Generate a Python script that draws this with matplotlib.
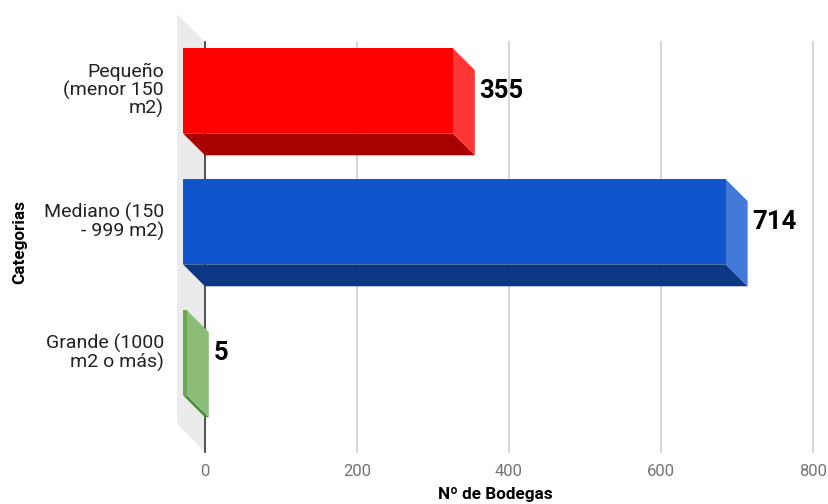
import matplotlib.pyplot as plt
from matplotlib.patches import Polygon

plt.rcParams['font.family'] = ['Roboto', 'DejaVu Sans']

# --- Data ---
categories = ['Pequeño\n(menor 150\nm2)', 'Mediano (150\n- 999 m2)', 'Grande (1000\nm2 o más)']
values = [355, 714, 5]
x_ticks = [0, 200, 400, 600, 800]

# front, side, bottom shades per bar
front_colors = ['#ff0000', '#1155cc', '#6aa84f']
side_colors = ['#ff3636', '#4479d9', '#8cbd77']
bottom_colors = ['#a80000', '#0c3784', '#4f8a3a']

# --- Figure ---
W, H = 829, 504
fig = plt.figure(figsize=(W / 100, H / 100), dpi=100)
ax = fig.add_axes([205 / W, 52 / H, 608 / W, 410 / H])
ax.set_xlim(0, 800)
ax.set_ylim(2.59, -0.54)
for s in ax.spines.values():
    s.set_visible(False)


def px_to_data(dx, dy):
    # offset in pixels (screen, y up) -> offset in data units
    inv = ax.transData.inverted()
    x0, y0 = inv.transform(ax.transData.transform((0, 0)))
    x1, y1 = inv.transform(ax.transData.transform((0, 0)) + [dx, dy])
    return x1 - x0, y1 - y0


bar_dx, bar_dy = px_to_data(-22, 22)
wall_dx, wall_dy = px_to_data(-28, 28)
ylo, yhi = ax.get_ylim()[1], ax.get_ylim()[0]

# back wall on the left
wall = [(0, ylo), (0, yhi), (wall_dx, yhi + wall_dy), (wall_dx, ylo + wall_dy)]
ax.add_patch(Polygon(wall, closed=True, facecolor='#ebebeb', edgecolor='none',
                     clip_on=False, zorder=0))

# grid on the back plane
for t in x_ticks[1:]:
    ax.plot([t, t], [ylo, yhi], color='#d0d0d0', lw=1.2, zorder=1, clip_on=False)
ax.plot([0, 0], [ylo, yhi], color='#333333', lw=1.2, zorder=1, clip_on=False)

bar_h = 0.65
for i, v in enumerate(values):
    y0, y1 = i - bar_h / 2, i + bar_h / 2
    # bottom face
    bottom = [(0, y1), (v, y1), (v + bar_dx, y1 + bar_dy), (bar_dx, y1 + bar_dy)]
    # right side face
    side = [(v, y0), (v, y1), (v + bar_dx, y1 + bar_dy), (v + bar_dx, y0 + bar_dy)]
    # front face
    front = [(bar_dx, y0 + bar_dy), (v + bar_dx, y0 + bar_dy),
             (v + bar_dx, y1 + bar_dy), (bar_dx, y1 + bar_dy)]
    ax.add_patch(Polygon(bottom, closed=True, facecolor=bottom_colors[i],
                         edgecolor='none', zorder=3, clip_on=False))
    ax.add_patch(Polygon(side, closed=True, facecolor=side_colors[i],
                         edgecolor='none', zorder=3, clip_on=False))
    ax.add_patch(Polygon(front, closed=True, facecolor=front_colors[i],
                         edgecolor='none', zorder=4, clip_on=False))
    # value label
    ax.annotate(str(v), xy=(v, i + bar_dy), xytext=(3.5, 0), textcoords='offset points',
                ha='left', va='center', fontsize=18.5, fontweight='bold', color='black',
                zorder=5)
    # category label, centred on the front face
    ax.annotate(categories[i], xy=(wall_dx, i + bar_dy), xytext=(-9.5, 0),
                textcoords='offset points', ha='right', va='center',
                fontsize=14, color='#222222', linespacing=0.95, annotation_clip=False)

ax.set_yticks([])
ax.set_xticks(x_ticks)
ax.set_xticklabels([str(t) for t in x_ticks], fontsize=12, color='#757575')
ax.tick_params(axis='x', length=0, pad=9)

fig.text(495 / W, 1 - 494 / H, 'Nº de Bodegas', ha='center', va='center',
         fontsize=12.3, fontweight='bold', color='black')
fig.text(20 / W, 1 - 242 / H, 'Categorias', ha='center', va='center', rotation=90,
         fontsize=12.3, fontweight='bold', color='black')

fig.savefig('out.png', dpi=100)
